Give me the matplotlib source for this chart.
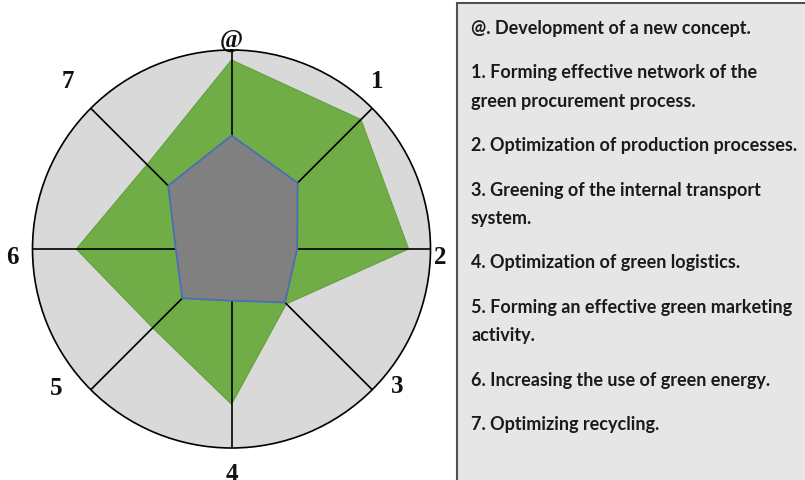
import numpy as np
import matplotlib
matplotlib.use('Agg')
import matplotlib.pyplot as plt
from matplotlib.patches import Rectangle

# axis labels, clockwise from the top
axis_labels = ['@', '1', '2', '3', '4', '5', '6', '7']

# values on a 0-10 scale
green_values = [9.5, 9.2, 8.9, 3.9, 7.8, 5.6, 7.8, 6.0]
grey_values = [5.7, 4.7, 3.3, 3.8, 2.6, 3.5, 2.8, 4.5]

legend_lines = [
    '@. Development of a new concept.',
    '1. Forming effective network of the\ngreen procurement process.',
    '2. Optimization of production processes.',
    '3. Greening of the internal transport\nsystem.',
    '4. Optimization of green logistics.',
    '5. Forming an effective green marketing\nactivity.',
    '6. Increasing the use of green energy.',
    '7. Optimizing recycling.',
]

# where each axis label sits (angle in degrees clockwise from top, radius)
label_pos = [(0, 10.55), (41, 11.2), (92, 10.5), (129.6, 10.8),
             (180, 11.3), (231.7, 11.2), (268, 11.0), (315.8, 11.8)]

W, H = 805, 481
fig = plt.figure(figsize=(W / 100, H / 100), dpi=100)

# polar chart: center (231.5, 250) px, radius 199 px
cx, cy, R = 231.5, 250, 199
ax = fig.add_axes([(cx - R) / W, 1 - (cy + R) / H, 2 * R / W, 2 * R / H],
                  projection='polar')
ax.set_theta_zero_location('N')
ax.set_theta_direction(-1)
ax.set_ylim(0, 10)
ax.set_facecolor('#d9d9d9')
ax.spines['polar'].set_color('black')
ax.spines['polar'].set_linewidth(1.2)

n = len(axis_labels)
angles = np.linspace(0, 2 * np.pi, n, endpoint=False)
ang_closed = np.append(angles, angles[0])

ax.fill(ang_closed, green_values + green_values[:1], color='#70ad47',
        edgecolor='#64a03e', linewidth=0.8, zorder=1)
ax.fill(ang_closed, grey_values + grey_values[:1], facecolor='#808080',
        edgecolor='#4a6db5', linewidth=1.3, zorder=2)

ax.set_yticks([])
ax.set_xticks(angles)
ax.set_xticklabels([])
ax.set_axisbelow('line')
ax.xaxis.grid(True, color='black', linewidth=1.2, linestyle='-')

for (deg, r), lab in zip(label_pos, axis_labels):
    ax.text(np.deg2rad(deg), r, lab, ha='center', va='center', fontsize=18,
            fontweight='bold', family='Liberation Serif', color='#111111',
            clip_on=False)

# legend box on the right
fig.patches.append(Rectangle((457 / W, -0.02), 0.5, 1 - 4 / H + 0.02,
                             transform=fig.transFigure, facecolor='#e6e6e6',
                             edgecolor='#505050', linewidth=1.5, zorder=-1))

y = 28.3
for entry in legend_lines:
    for line in entry.split('\n'):
        fig.text(471 / W, 1 - y / H, line, ha='left', va='center',
                 fontsize=13, fontweight='bold', family='Lato',
                 color='#1a1a1a')
        y += 28.3
    y += 44.5 - 28.3

fig.savefig('out.png', dpi=100)
